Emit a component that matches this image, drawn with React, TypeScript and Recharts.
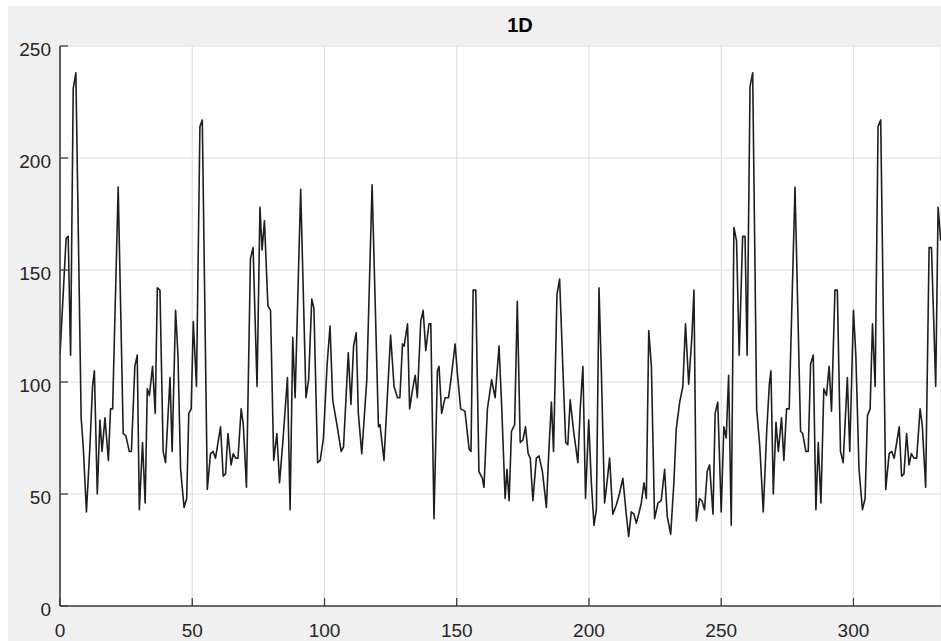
import { LineChart, Line, XAxis, YAxis, CartesianGrid } from "recharts";

// [x, value] pairs
const trace: [number, number][] = [
  [0, 112], [2.3, 164], [3.1, 165], [4, 112], [5, 231], [6, 238], [8, 84], [8.8, 71], [10, 42], [11.3, 71],
  [12.3, 98], [13, 105], [14.1, 50], [15.1, 83], [15.9, 69], [17, 84], [18.3, 65], [19.1, 88], [19.9, 88], [22, 187],
  [23.9, 77], [24.9, 76], [26.2, 69], [27, 69], [28.3, 107], [29.2, 112], [30, 43], [31.2, 73], [32.2, 46], [33, 97],
  [33.8, 94], [35, 107], [36, 86], [36.8, 142], [37.8, 141], [39, 69], [39.9, 64], [41.6, 102], [42.4, 69], [43.7, 132],
  [44.6, 112], [45.6, 61], [46.9, 44], [47.9, 48], [48.7, 86], [49.6, 88], [50.4, 127], [51.6, 98], [52.9, 214], [53.8, 217],
  [55.7, 52], [56.9, 68], [57.9, 69], [58.8, 66], [60.7, 80], [61.7, 58], [62.6, 59], [63.5, 77], [64.7, 63], [65.5, 68],
  [66.4, 66], [67.3, 66], [68.5, 88], [69.3, 81], [70.5, 53], [72, 155], [73, 160], [74.5, 98], [75.6, 178], [76.4, 159],
  [77.3, 172], [78.6, 134], [79.6, 132], [80.8, 65], [82, 77], [83, 55], [84.3, 74], [86, 102], [87, 43], [88, 120],
  [88.9, 93], [91, 186], [93, 93], [94, 101], [95.2, 137], [96, 133], [97.4, 64], [98.4, 65], [99.6, 75], [101, 108],
  [102.1, 125], [103.1, 92], [104.7, 81], [106.3, 69], [107.2, 71], [109, 113], [110, 90], [111, 116], [112, 122], [112.8, 86],
  [114.1, 68], [116, 101], [118, 188], [120.4, 80], [121, 81], [122.5, 65], [125, 121], [126.3, 98], [127.6, 93], [128.5, 93],
  [129.5, 117], [130.1, 116], [131.4, 126], [132.2, 88], [133.2, 96], [134.3, 103], [135.1, 93], [136.4, 127], [137.3, 132], [138.3, 114],
  [139.5, 126], [140.2, 126], [141.4, 39], [142.7, 105], [143.3, 107], [144.3, 86], [145.6, 93], [146.9, 93], [147.7, 100], [149.4, 117],
  [150.3, 103], [151.5, 88], [153.1, 87], [154.7, 70], [155.4, 69], [156.2, 141], [157.2, 141], [158.4, 60], [159.7, 57], [160.3, 53],
  [161.6, 88], [163.2, 101], [164.5, 93], [166, 116], [167, 89], [168.3, 48], [169, 61], [169.8, 47], [170.7, 78], [171.9, 81],
  [172.9, 136], [174, 73], [175, 74], [176, 80], [177, 68], [177.8, 66], [178.8, 47], [180.1, 66], [181.1, 67], [182.4, 60],
  [183.9, 44], [184.9, 71], [185.8, 91], [186.6, 69], [187.9, 139], [188.9, 146], [190.2, 104], [191.2, 73], [192, 72], [192.9, 92],
  [194.2, 78], [195.8, 64], [196.7, 88], [197.7, 107], [198.7, 48], [199.9, 83], [200.9, 55], [201.9, 36], [202.8, 43], [203.8, 142],
  [204.7, 104], [205.9, 46], [206.8, 55], [207.8, 66], [209, 41], [210.3, 45], [211.5, 50], [212.8, 57], [214.1, 41], [215, 31],
  [216, 42], [217, 41], [217.9, 37], [218.8, 41], [219.8, 46], [220.8, 55], [221.7, 48], [222.6, 123], [223.6, 107], [224.8, 39],
  [226.1, 46], [227.3, 47], [228.6, 61], [229.6, 40], [230.9, 32], [232.1, 55], [233, 79], [234.3, 91], [235.5, 98], [236.5, 126],
  [237.7, 99], [238.9, 120], [239.7, 141], [240.6, 38], [241.8, 48], [242.7, 47], [243.7, 43], [244.7, 60], [245.6, 63], [246.9, 41],
  [247.7, 86], [248.7, 91], [250, 42], [251, 80], [251.9, 75], [252.8, 103], [253.8, 36], [254.8, 169], [255.8, 163], [256.8, 112],
  [258.1, 165], [259, 165], [259.8, 112], [260.9, 232], [261.9, 238], [263.4, 88], [264.6, 71], [265.9, 42], [267.2, 78], [268.2, 99],
  [268.8, 105], [269.7, 50], [270.7, 82], [271.6, 69], [272.8, 84], [273.7, 65], [274.7, 88], [275.7, 88], [277.9, 187], [280, 78],
  [280.8, 77], [282, 69], [282.9, 69], [283.8, 108], [284.8, 112], [285.8, 43], [286.7, 73], [287.7, 46], [288.8, 97], [289.8, 94],
  [290.8, 107], [291.7, 87], [293, 141], [293.9, 141], [295.1, 69], [296.1, 64], [297.7, 102], [298.6, 69], [300, 132], [300.9, 112],
  [302.1, 61], [303.4, 43], [304.4, 48], [305.3, 85], [306.3, 88], [307.2, 126], [308.2, 98], [309.3, 214], [310.3, 217], [312.2, 52],
  [313.5, 68], [314.5, 69], [315.4, 66], [317.3, 80], [318.2, 58], [319.1, 59], [320.1, 77], [321, 63], [321.9, 68], [322.9, 66],
  [323.9, 66], [325.2, 88], [326, 81], [327.3, 53], [328.6, 160], [329.5, 160], [331.1, 98], [332, 178], [333, 163],
];

const xTicks = [0, 50, 100, 150, 200, 250, 300];
const yTicks = [0, 50, 100, 150, 200, 250];
const chartTitle = "1D";

const data = trace.map(([x, v]) => ({ x, v }));

const W = 941;
const H = 641;
const PLOT_LEFT = 60;
const PLOT_TOP = 46;
const PLOT_BOTTOM = 606;
const TICK_LEN = 8;
const AXIS = "#262626";
const AXIS_LINE = "#3c3c3c";
const FONT = "'Liberation Sans', Arial, Helvetica, sans-serif";
const LABEL_SIZE = 19;

const BottomTick = (props: any) => {
  const { x, payload } = props;
  return (
    <g>
      <line x1={x} x2={x} y1={PLOT_BOTTOM} y2={PLOT_BOTTOM - TICK_LEN} stroke={AXIS_LINE} strokeWidth={1.3} />
      <text x={x} y={PLOT_BOTTOM + 31} textAnchor="middle" fill={AXIS} fontSize={LABEL_SIZE} fontFamily={FONT}>
        {payload.value}
      </text>
    </g>
  );
};

const TopTick = (props: any) => {
  const { x } = props;
  return <line x1={x} x2={x} y1={PLOT_TOP} y2={PLOT_TOP + TICK_LEN} stroke={AXIS_LINE} strokeWidth={1.3} />;
};

const LeftTick = (props: any) => {
  const { y, payload } = props;
  return (
    <g>
      <line x1={PLOT_LEFT} x2={PLOT_LEFT + TICK_LEN} y1={y} y2={y} stroke={AXIS_LINE} strokeWidth={1.3} />
      <text x={PLOT_LEFT - 9} y={y + 10} textAnchor="end" fill={AXIS} fontSize={LABEL_SIZE} fontFamily={FONT}>
        {payload.value}
      </text>
    </g>
  );
};

export default function App() {
  return (
    <div style={{ position: "absolute", left: 0, top: 0, width: W, height: H, background: "#ffffff", overflow: "hidden" }}>
      <div style={{ position: "absolute", left: 8, top: 6, right: 0, bottom: 0, background: "#f0f0f0" }} />
      <div
        style={{
          position: "absolute",
          left: 520,
          top: 14,
          transform: "translateX(-50%)",
          fontFamily: FONT,
          fontWeight: "bold",
          fontSize: 20,
          color: "#000",
        }}
      >
        {chartTitle}
      </div>
      <div style={{ position: "absolute", left: 0, top: 0 }}>
        <LineChart width={W} height={H} data={data} margin={{ top: PLOT_TOP, right: 0, bottom: 0, left: 0 }}>
          <CartesianGrid stroke="#dfdfdf" strokeWidth={1.2} fill="#ffffff" />
          <XAxis
            dataKey="x"
            type="number"
            domain={[0, 333.1]}
            ticks={xTicks}
            interval={0}
            allowDataOverflow
            height={H - PLOT_BOTTOM}
            tickSize={0}
            tick={<BottomTick />}
            axisLine={{ stroke: AXIS_LINE, strokeWidth: 1.6 }}
          />
          <XAxis
            xAxisId="top"
            orientation="top"
            dataKey="x"
            type="number"
            domain={[0, 333.1]}
            ticks={xTicks}
            interval={0}
            allowDataOverflow
            height={0}
            tickSize={0}
            tick={<TopTick />}
            axisLine={{ stroke: AXIS_LINE, strokeWidth: 1.6 }}
          />
          <YAxis
            type="number"
            domain={[0, 250]}
            ticks={yTicks}
            interval={0}
            width={PLOT_LEFT}
            tickSize={0}
            tick={<LeftTick />}
            axisLine={{ stroke: AXIS_LINE, strokeWidth: 1.6 }}
          />
          <Line
            type="linear"
            dataKey="v"
            stroke="#1e1e1e"
            strokeWidth={1.6}
            strokeLinejoin="round"
            dot={false}
            isAnimationActive={false}
          />
        </LineChart>
      </div>
    </div>
  );
}
